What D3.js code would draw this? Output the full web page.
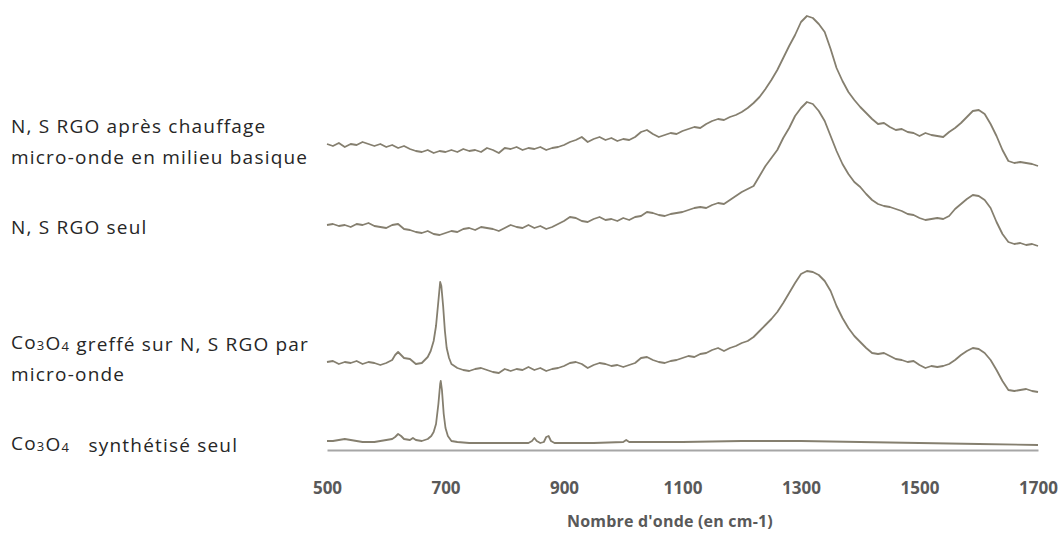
<!DOCTYPE html>
<html><head><meta charset="utf-8">
<script src="https://cdn.jsdelivr.net/npm/d3@7"></script>
<style>body{margin:0;background:#fff}svg{display:block}</style>
</head><body><svg id="c" width="1061" height="555"></svg>
<script>
// x axis ticks (wavenumber, cm-1)
const xTicks = [500, 700, 900, 1100, 1300, 1500, 1700];

// Raman spectra, [wavenumber, intensity (a.u., offset stacked)]
const rgoHeated = [[500,302],[510,300],[520,303],[530,299],[540,302],[550,301],[560,304],[570,302],[580,300],[590,302],[600,299],[610,301],[620,298],[630,300],[640,297],[650,295],[660,294],[670,296],[680,293],[690,295],[700,294],[710,296],[720,294],[730,297],[740,295],[750,296],[760,294],[770,298],[780,296],[790,293],[800,298],[810,297],[820,299],[830,296],[840,298],[850,297],[860,299],[870,296],[880,298],[890,299],[900,301],[910,304],[920,306],[930,309],[940,304],[950,307],[960,309],[970,306],[980,308],[990,305],[1000,307],[1010,306],[1020,309],[1030,314],[1040,316],[1050,312],[1060,309],[1070,311],[1080,313],[1090,312],[1100,315],[1110,317],[1120,319],[1130,318],[1140,322],[1150,325],[1160,327],[1170,326],[1180,329],[1190,331],[1200,334],[1210,338],[1220,343],[1230,349],[1240,357],[1250,366],[1260,376],[1270,388],[1280,400],[1290,411],[1300,424],[1310,430],[1320,428],[1330,422],[1340,414],[1350,397],[1360,378],[1370,365],[1380,354],[1390,346],[1400,339],[1410,333],[1420,327],[1430,322],[1440,323],[1450,319],[1460,316],[1470,317],[1480,314],[1490,313],[1500,310],[1510,313],[1520,311],[1530,310],[1540,309],[1550,314],[1560,318],[1570,323],[1580,329],[1590,335],[1600,336],[1610,332],[1620,322],[1630,310],[1640,296],[1650,285],[1660,283],[1670,284],[1680,283],[1690,282],[1700,280]];

const rgoAlone = [[500,221],[510,222],[520,220],[530,221],[540,219],[550,222],[560,221],[570,223],[580,220],[590,219],[600,218],[610,221],[620,222],[630,217],[640,216],[650,214],[660,213],[670,215],[680,212],[690,211],[700,213],[710,215],[720,214],[730,217],[740,218],[750,216],[760,219],[770,218],[780,217],[790,215],[800,218],[810,221],[820,219],[830,218],[840,221],[850,218],[860,220],[870,217],[880,219],[890,222],[900,225],[910,229],[920,228],[930,225],[940,224],[950,227],[960,229],[970,226],[980,227],[990,225],[1000,228],[1010,226],[1020,229],[1030,230],[1040,234],[1050,233],[1060,231],[1070,230],[1080,232],[1090,233],[1100,234],[1110,236],[1120,238],[1130,239],[1140,238],[1150,241],[1160,243],[1170,242],[1180,246],[1190,250],[1200,254],[1210,257],[1220,260],[1230,270],[1240,280],[1250,288],[1260,296],[1270,308],[1280,318],[1290,330],[1300,338],[1310,344],[1320,342],[1330,335],[1340,325],[1350,310],[1360,295],[1370,282],[1380,272],[1390,264],[1400,259],[1410,252],[1420,246],[1430,242],[1440,240],[1450,239],[1460,237],[1470,235],[1480,232],[1490,231],[1500,228],[1510,226],[1520,227],[1530,228],[1540,227],[1550,230],[1560,237],[1570,242],[1580,247],[1590,251],[1600,250],[1610,246],[1620,238],[1630,224],[1640,212],[1650,204],[1660,202],[1670,203],[1680,201],[1690,202],[1700,200]];

const co3o4OnRgo = [[500,84],[510,85],[520,82],[530,84],[540,83],[550,85],[560,82],[570,84],[580,83],[590,81],[600,83],[610,86],[615,91],[620,94],[625,91],[630,88],[640,87],[650,82],[660,83],[665,86],[670,89],[675,95],[680,105],[684,120],[688,145],[691,164],[693,160],[696,140],[699,115],[702,98],[706,88],[710,82],[720,78],[730,76],[740,75],[750,77],[760,78],[770,76],[780,74],[790,73],[800,77],[810,75],[820,77],[830,76],[840,79],[850,76],[860,78],[870,75],[880,77],[890,78],[900,80],[910,83],[920,84],[930,82],[940,78],[950,81],[960,83],[970,82],[980,80],[990,81],[1000,79],[1010,81],[1020,83],[1030,88],[1040,89],[1050,86],[1060,84],[1070,83],[1080,85],[1090,86],[1100,88],[1110,90],[1120,89],[1130,92],[1140,93],[1150,96],[1160,98],[1170,95],[1180,98],[1190,100],[1200,103],[1210,105],[1220,109],[1230,115],[1240,121],[1250,127],[1260,134],[1270,143],[1280,153],[1290,163],[1300,172],[1310,175],[1320,174],[1330,171],[1340,165],[1350,155],[1360,140],[1370,128],[1380,118],[1390,110],[1400,104],[1410,98],[1420,93],[1430,92],[1440,93],[1450,90],[1460,87],[1470,86],[1480,84],[1490,85],[1500,81],[1510,78],[1520,80],[1530,79],[1540,80],[1550,82],[1560,86],[1570,91],[1580,95],[1590,98],[1600,97],[1610,93],[1620,86],[1630,76],[1640,65],[1650,56],[1660,55],[1670,56],[1680,57],[1690,55],[1700,54]];

const co3o4Alone = [[500,5],[510,5],[520,6],[530,7],[540,6],[550,5],[560,4],[570,4],[580,4],[590,5],[600,6],[610,7],[615,9],[620,12],[625,10],[630,7],[640,6],[645,8],[650,6],[660,5],[670,7],[676,10],[680,14],[684,22],[688,42],[691,62],[692,65],[694,56],[697,32],[700,18],[704,10],[710,5],[720,4],[740,3],[780,3],[840,3],[846,5],[850,8],[854,5],[860,3],[866,4],[870,9],[874,10],[878,5],[884,3],[950,3],[1000,4],[1005,6],[1010,4],[1100,4],[1200,5],[1300,5],[1400,4],[1500,3],[1600,2],[1700,1]];

const seriesData = [rgoHeated, rgoAlone, co3o4OnRgo, co3o4Alone];

const svg = d3.select('#c');
const x = d3.scaleLinear().domain([500, 1700]).range([327, 1038]);
const y = d3.scaleLinear().domain([0, 446]).range([446, 0]);
const line = d3.line().x(d => x(d[0])).y(d => y(d[1]));

// axis
const ax = svg.append('g').attr('transform', 'translate(0,450)')
  .call(d3.axisBottom(x).tickValues(xTicks).tickSize(0).tickPadding(32).tickFormat(d3.format('d')));
ax.select('.domain').attr('stroke', '#a6a6a6').attr('stroke-width', 2);
ax.selectAll('text').attr('fill', '#595959').attr('font-family', 'Open Sans, sans-serif')
  .attr('font-weight', 'bold').attr('font-size', 17);

svg.append('text').attr('x', 670).attr('y', 527).attr('text-anchor', 'middle')
  .attr('fill', '#595959').attr('font-family', 'Open Sans, sans-serif').attr('font-weight', 'bold')
  .attr('font-size', 16).attr('letter-spacing', 0.2).text("Nombre d'onde (en cm-1)");

// curves
svg.append('g').selectAll('path').data(seriesData).join('path')
  .attr('d', line).attr('fill', 'none').attr('stroke', '#857f6f')
  .attr('stroke-width', 1.8).attr('stroke-linejoin', 'round');

// labels
const lab = svg.append('g').attr('font-family', 'Open Sans, sans-serif').attr('font-size', 19)
  .attr('letter-spacing', 1.2).attr('fill', '#262626');
function addText(yy, parts) {
  const t = lab.append('text').attr('x', 11).attr('y', yy).style('white-space', 'pre');
  parts.forEach(p => {
    if (typeof p === 'string') t.append('tspan').text(p);
    else t.append('tspan').attr('font-size', 13).attr('dy', p.dy).text(p.s);
  });
}
addText(133, ['N, S RGO après chauffage']);
addText(164, ['micro-onde en milieu basique']);
addText(234, ['N, S RGO seul']);
addText(349, ['Co', {s:'3', dy:1}, {s:'', dy:-1}, 'O', {s:'4', dy:1}, {s:'', dy:-1}, ' greffé sur N, S RGO par']);
addText(381, ['micro-onde']);
addText(450, ['Co', {s:'3', dy:1}, {s:'', dy:-1}, 'O', {s:'4', dy:1}, {s:'', dy:-1}, '   synthétisé seul']);
</script></body></html>
